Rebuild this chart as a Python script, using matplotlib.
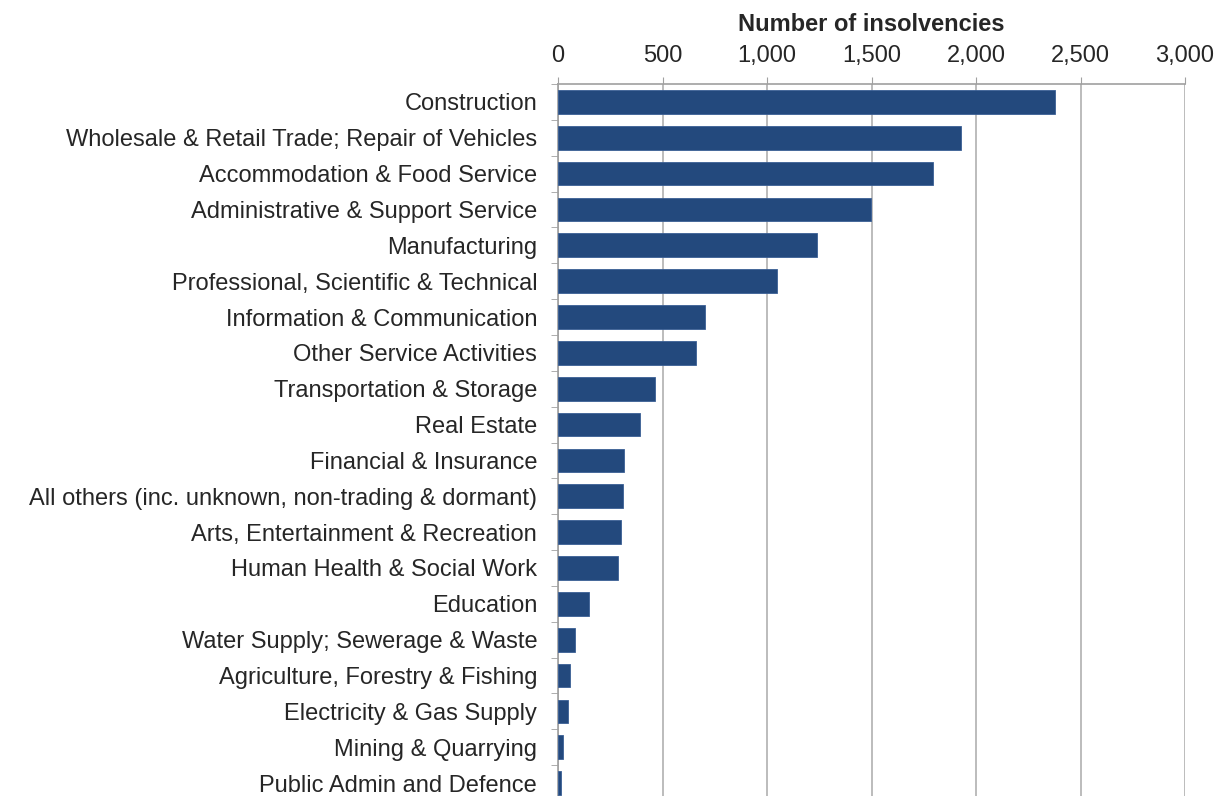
import matplotlib
matplotlib.use("Agg")
import matplotlib.pyplot as plt
from matplotlib.ticker import FuncFormatter, FixedLocator

categories = [
    "Construction",
    "Wholesale & Retail Trade; Repair of Vehicles",
    "Accommodation & Food Service",
    "Administrative & Support Service",
    "Manufacturing",
    "Professional, Scientific & Technical",
    "Information & Communication",
    "Other Service Activities",
    "Transportation & Storage",
    "Real Estate",
    "Financial & Insurance",
    "All others (inc. unknown, non-trading & dormant)",
    "Arts, Entertainment & Recreation",
    "Human Health & Social Work",
    "Education",
    "Water Supply; Sewerage & Waste",
    "Agriculture, Forestry & Fishing",
    "Electricity & Gas Supply",
    "Mining & Quarrying",
    "Public Admin and Defence",
]
values = [2378, 1927, 1793, 1498, 1238, 1048, 703, 660, 464, 391,
          318, 309, 301, 287, 148, 83, 56, 46, 25, 15]
xticks = [0, 500, 1000, 1500, 2000, 2500, 3000]

plt.rcParams['font.family'] = ['Liberation Sans', 'DejaVu Sans']
FS = 17
TXT = '#262626'

fig = plt.figure(figsize=(12.18, 7.96), dpi=100)
ax = fig.add_axes([558/1218, 1 - 801/796, (1185-558)/1218, (801-84)/796])

n = len(categories)
ypos = list(range(n))
ax.barh(ypos, values, height=0.66, color='#23497D', edgecolor='#3A5F95', linewidth=0.6, zorder=3)
ax.set_ylim(n - 0.5, -0.5)
ax.set_xlim(0, 3000)

ax.xaxis.tick_top()
ax.xaxis.set_label_position('top')
ax.set_xticks(xticks)
ax.xaxis.set_major_formatter(FuncFormatter(lambda v, p: f"{int(v):,}"))
ax.tick_params(axis='x', which='major', length=5, color='#A0A0A0', labelsize=FS,
               pad=7, labelcolor=TXT)
ax.set_xlabel("Number of insolvencies", fontsize=FS, fontweight='bold', labelpad=10, color=TXT)

ax.set_yticks(ypos)
ax.set_yticklabels(categories)
ax.tick_params(axis='y', which='major', length=0, labelsize=FS, pad=15, labelcolor=TXT)
ax.yaxis.set_minor_locator(FixedLocator([i - 0.5 for i in range(n + 1)]))
ax.tick_params(axis='y', which='minor', length=5, color='#A0A0A0')

ax.grid(axis='x', color='#B0B0B0', linewidth=1.2, zorder=0)
for s in ['right', 'bottom']:
    ax.spines[s].set_visible(False)
for s in ['top', 'left']:
    ax.spines[s].set_color('#A0A0A0')
    ax.spines[s].set_linewidth(1.2)

fig.savefig("out.png", dpi=100)
